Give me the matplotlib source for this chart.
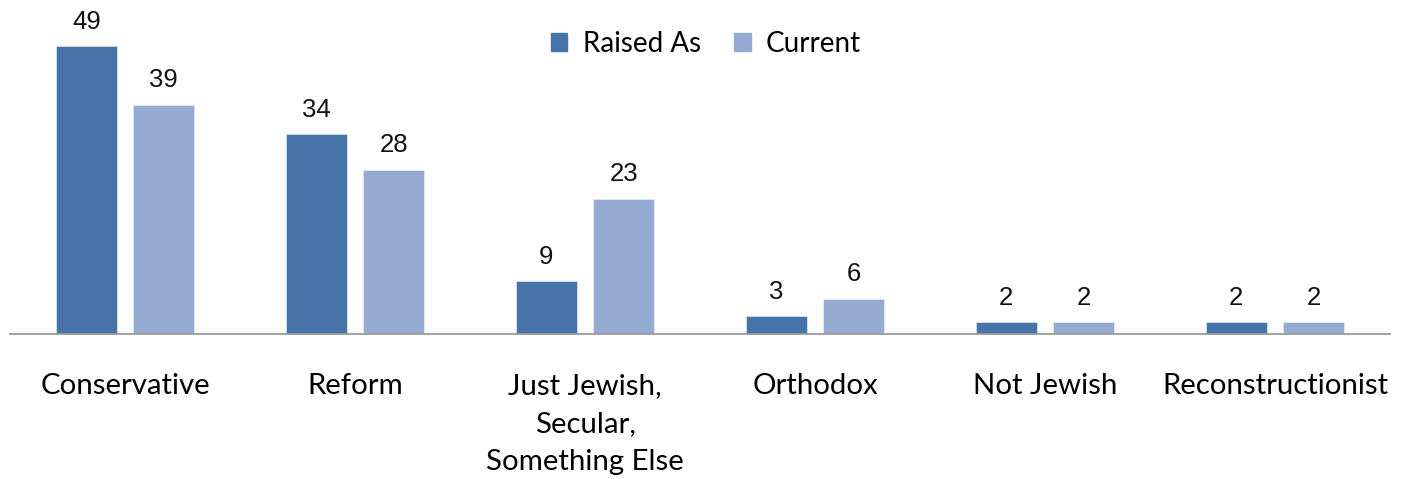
import numpy as np
import matplotlib.pyplot as plt
from matplotlib.patches import Patch

categories = ["Conservative", "Reform", "Just Jewish,\nSecular,\nSomething Else",
              "Orthodox", "Not Jewish", "Reconstructionist"]
raised_as = [49, 34, 9, 3, 2, 2]
current = [39, 28, 23, 6, 2, 2]
series_names = ["Raised As", "Current"]

dark_blue = "#4674A8"
light_blue = "#95AAD1"

W, H = 1403, 479
fig = plt.figure(figsize=(W / 100, H / 100), dpi=100)
ax = fig.add_axes([10 / W, 145 / H, 1380 / W, 323 / H])

x = np.arange(len(categories))
width = 0.265
offset = 0.168

bars_a = ax.bar(x - offset, raised_as, width, color=dark_blue, edgecolor="#D6E0EE", linewidth=0.6)
bars_b = ax.bar(x + offset, current, width, color=light_blue, edgecolor="#E4EAF4", linewidth=0.6)

for bars, vals in ((bars_a, raised_as), (bars_b, current)):
    for rect, v in zip(bars, vals):
        ax.annotate(str(v), (rect.get_x() + rect.get_width() / 2, v),
                    xytext=(0, 9), textcoords="offset points",
                    ha="center", va="bottom", fontsize=18.5,
                    family="Liberation Sans", color="#111111")

ax.set_xlim(-0.5, len(categories) - 0.5)
ax.set_ylim(0, 55)
ax.set_yticks([])
ax.set_xticks(x)
ax.set_xticklabels(categories, family="Lato", fontsize=21.2, linespacing=1.58)
ax.tick_params(axis="x", length=0, pad=28)

for side in ("top", "right", "left"):
    ax.spines[side].set_visible(False)
ax.spines["bottom"].set_color("#9A9A9A")
ax.spines["bottom"].set_linewidth(1.3)

handles = [Patch(color=dark_blue), Patch(color=light_blue)]
fig.legend(handles, series_names, loc="center", bbox_to_anchor=(706 / W, 1 - 44 / H),
           ncol=2, frameon=False, handlelength=0.6, handleheight=0.6,
           handletextpad=0.55, columnspacing=1.2,
           prop={"family": "Lato", "size": 20})

fig.savefig("out.png", dpi=100, facecolor="white")
